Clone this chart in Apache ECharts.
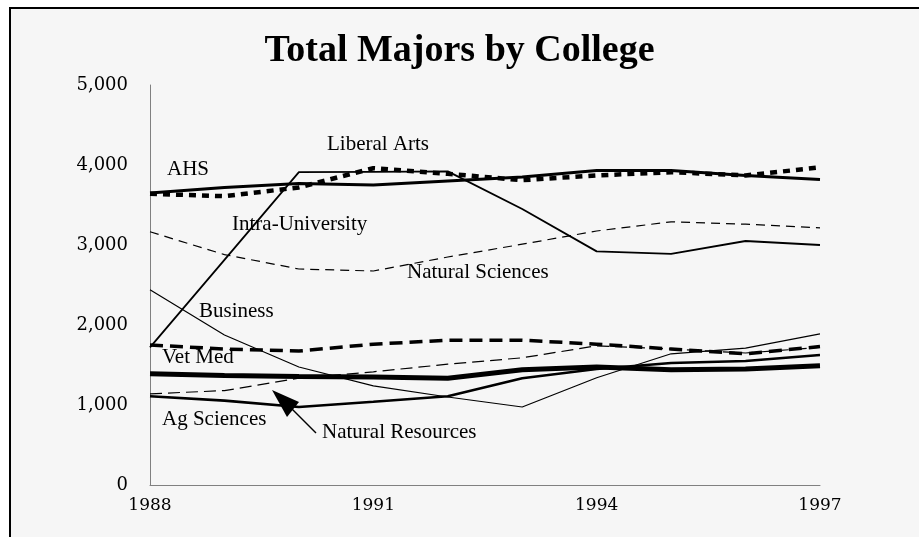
<!DOCTYPE html>
<html>
<head>
<meta charset="utf-8">
<script src="https://cdn.jsdelivr.net/npm/echarts@6/dist/echarts.min.js"></script>
<style>
html,body{margin:0;padding:0;background:#fff;}
#c{width:919px;height:537px;}
</style>
</head>
<body>
<div id="c"></div>
<script>
var years = [1988, 1989, 1990, 1991, 1992, 1993, 1994, 1995, 1996, 1997];
var ahs            = [3650, 3720, 3770, 3750, 3800, 3850, 3930, 3930, 3870, 3820];
var liberalArts    = [3640, 3610, 3720, 3960, 3890, 3810, 3870, 3910, 3870, 3970];
var intraUniv      = [1720, 2815, 3910, 3915, 3920, 3450, 2920, 2890, 3050, 3000];
var naturalSci     = [3165, 2880, 2700, 2675, 2850, 3010, 3175, 3290, 3260, 3215];
var business       = [2440, 1875, 1475, 1240, 1100, 975, 1340, 1640, 1710, 1890];
var unlabeled      = [1750, 1700, 1675, 1760, 1810, 1810, 1760, 1700, 1640, 1730];
var vetMed         = [1390, 1370, 1355, 1350, 1335, 1440, 1475, 1440, 1450, 1490];
var agSciences     = [1110, 1055, 975, 1040, 1110, 1335, 1450, 1525, 1550, 1625];
var naturalRes     = [1140, 1180, 1335, 1415, 1510, 1590, 1740, 1700, 1650, 1720];
var yTicks = [0, 1000, 2000, 3000, 4000, 5000];
var xTicks = [1988, 1991, 1994, 1997];

function pairs(vals){ return years.map(function(y,i){ return [y, vals[i]]; }); }
function fmt(v){ return String(v).replace(/\B(?=(\d{3})+(?!\d))/g, ','); }

var chart = echarts.init(document.getElementById('c'));
var serif = "'Liberation Serif', 'Times New Roman', serif";
function mk(name, vals, width, type, z){
  return {name:name, type:'line', data:pairs(vals), symbol:'none', z:z||2,
    lineStyle:{color:'#000', width:width, type:type, cap:'butt'}, animation:false, silent:true};
}
function lbl(text, x, y){
  return {type:'text', left:x, top:y-11, style:{text:text, fill:'#000', font:'21px ' + serif}};
}
chart.setOption({
  backgroundColor:'#f6f6f6',
  animation:false,
  title:{text:'Total Majors by College', left:'center', top:27,
    textStyle:{fontFamily:serif, fontWeight:'bold', fontSize:38, color:'#000'}},
  grid:{left:150, right:99, top:85, bottom:52},
  xAxis:{type:'value', min:1988, max:1997, interval:3,
    axisLine:{show:true, lineStyle:{color:'#808080', width:1}},
    axisTick:{show:false}, splitLine:{show:false},
    axisLabel:{margin:12, color:'#000', fontFamily:"'DejaVu Serif', serif", fontSize:17,
      formatter:function(v){ return xTicks.indexOf(v) >= 0 ? String(v) : ''; }}},
  yAxis:{type:'value', min:0, max:5000, interval:1000,
    axisLine:{show:true, lineStyle:{color:'#808080', width:1}},
    axisTick:{show:false}, splitLine:{show:false},
    axisLabel:{margin:22, color:'#000', fontFamily:"'DejaVu Serif', serif", fontSize:18,
      formatter:function(v){ return yTicks.indexOf(v) >= 0 ? fmt(v) : ''; }}},
  series:[
    mk('Natural Sciences', naturalSci, 1.2, [9,6]),
    mk('Natural Resources', naturalRes, 1.2, [12,6]),
    mk('Business', business, 1.2, 'solid'),
    mk('Intra-University', intraUniv, 1.8, 'solid'),
    mk('Ag Sciences', agSciences, 2.6, 'solid', 3),
    mk('Unlabeled', unlabeled, 3.5, [13,7], 3),
    mk('Vet Med', vetMed, 5, 'solid', 3),
    mk('AHS', ahs, 3, 'solid', 4),
    mk('Liberal Arts', liberalArts, 4.5, [7,6], 4)
  ],
  graphic:[
    {type:'rect', shape:{x:0, y:0, width:919, height:7}, style:{fill:'#fff'}, silent:true},
    {type:'rect', shape:{x:0, y:0, width:9, height:537}, style:{fill:'#fff'}, silent:true},
    {type:'line', shape:{x1:9, y1:8, x2:919, y2:8}, style:{stroke:'#000', lineWidth:2}, silent:true},
    {type:'line', shape:{x1:10, y1:7, x2:10, y2:537}, style:{stroke:'#000', lineWidth:2}, silent:true},
    lbl('AHS', 167, 170),
    lbl('Liberal Arts', 327, 145),
    lbl('Intra-University', 232, 225),
    lbl('Natural Sciences', 407, 273),
    lbl('Business', 199, 312),
    lbl('Vet Med', 162, 358),
    lbl('Ag Sciences', 162, 420),
    lbl('Natural Resources', 322, 433),
    {type:'line', shape:{x1:316, y1:433, x2:292, y2:409}, style:{stroke:'#000', lineWidth:1.5}, silent:true},
    {type:'polygon', shape:{points:[[272,390],[287,417],[299,402]]}, style:{fill:'#000'}, silent:true}
  ]
});
</script>
</body>
</html>
